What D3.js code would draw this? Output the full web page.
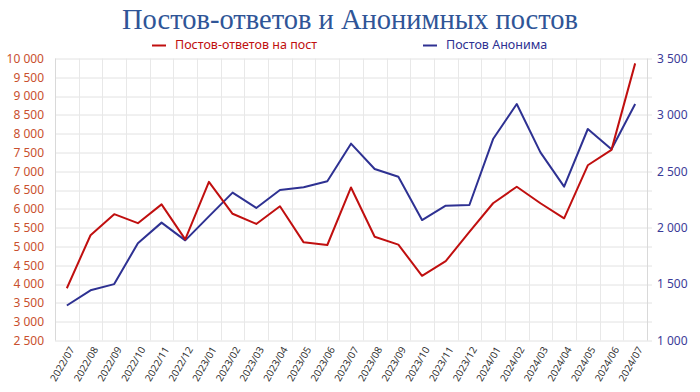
<!DOCTYPE html>
<html>
<head>
<meta charset="utf-8">
<script src="https://cdn.jsdelivr.net/npm/d3@7"></script>
<style>
  body { margin: 0; background: #fff; }
  svg { display: block; }
</style>
</head>
<body>
<div id="chart"></div>
<script>
const months = [
    "2022/07", "2022/08", "2022/09", "2022/10", "2022/11", "2022/12",
    "2023/01", "2023/02", "2023/03", "2023/04", "2023/05", "2023/06",
    "2023/07", "2023/08", "2023/09", "2023/10", "2023/11", "2023/12",
    "2024/01", "2024/02", "2024/03", "2024/04", "2024/05", "2024/06", "2024/07"
];

// left axis series
const replies = [
    3890, 5300, 5860, 5620, 6120, 5190,
    6720, 5870, 5600, 6070, 5110, 5040,
    6570, 5260, 5050, 4220, 4610, 5390,
    6150, 6590, 6150, 5750, 7160, 7570, 9870
];

// right axis series
const anon = [
    1310, 1445, 1500, 1862, 2045, 1888,
    2100, 2311, 2175, 2334, 2358, 2411,
    2745, 2520, 2452, 2068, 2195, 2201,
    2786, 3097, 2668, 2364, 2875, 2695, 3097
];

const leftTicks = d3.range(2500, 10001, 500);
const rightTicks = [1000, 1500, 2000, 2500, 3000, 3500];

const width = 700, height = 392;
const margin = { top: 58.5, right: 53, bottom: 51.5, left: 55 };
const innerWidth = width - margin.left - margin.right;
const innerHeight = height - margin.top - margin.bottom;

const redColor = "#c00f0f";
const blueColor = "#2e3192";
const fmt = d => d3.format(",")(d).replace(/,/g, " ");

const svg = d3.select("#chart").append("svg")
              .attr("width", width)
              .attr("height", height);

const g = svg.append("g")
             .attr("transform", `translate(${margin.left},${margin.top})`);

const x = d3.scaleBand()
            .domain(months)
            .range([0, innerWidth]);

const yLeft = d3.scaleLinear()
                .domain([2500, 10000])
                .range([innerHeight, 0]);

const yRight = d3.scaleLinear()
                 .domain([1000, 3500])
                 .range([innerHeight, 0]);

// grid
g.append("g")
 .selectAll("line")
 .data(leftTicks)
 .enter().append("line")
 .attr("x1", 0)
 .attr("x2", innerWidth + 5)
 .attr("y1", d => Math.round(yLeft(d)) + 0.5)
 .attr("y2", d => Math.round(yLeft(d)) + 0.5)
 .attr("stroke", "#e2e2e2")
 .attr("stroke-width", 1);

g.append("g")
 .selectAll("line")
 .data(months.slice(1))
 .enter().append("line")
 .attr("x1", d => Math.round(x(d)) + 0.5)
 .attr("x2", d => Math.round(x(d)) + 0.5)
 .attr("y1", 0)
 .attr("y2", innerHeight)
 .attr("stroke", "#e8e8e8")
 .attr("stroke-width", 1);

// axis lines
[0, innerWidth].forEach(xp => {
    g.append("line")
     .attr("x1", Math.round(xp) + 0.5)
     .attr("x2", Math.round(xp) + 0.5)
     .attr("y1", 0)
     .attr("y2", innerHeight)
     .attr("stroke", "#d9d9d9");
});

// left labels
g.append("g")
 .selectAll("text")
 .data(leftTicks)
 .enter().append("text")
 .attr("x", -11)
 .attr("y", d => yLeft(d))
 .attr("dy", "0.35em")
 .attr("text-anchor", "end")
 .attr("fill", "#c9502e")
 .style("font-family", "'Noto Sans', sans-serif")
 .style("font-size", "12px")
 .text(fmt);

// right labels
g.append("g")
 .selectAll("text")
 .data(rightTicks)
 .enter().append("text")
 .attr("x", innerWidth + 10)
 .attr("y", d => yRight(d))
 .attr("dy", "0.35em")
 .attr("fill", "#3b3b98")
 .style("font-family", "'Noto Sans', sans-serif")
 .style("font-size", "12px")
 .text(fmt);

// x labels
g.append("g")
 .selectAll("text")
 .data(months)
 .enter().append("text")
 .attr("transform", d => `translate(${x(d) + x.bandwidth() / 2 + 5},${innerHeight + 7}) rotate(-60)`)
 .attr("text-anchor", "end")
 .attr("dy", "0.35em")
 .attr("fill", "#333")
 .style("font-family", "'Noto Sans', sans-serif")
 .style("font-size", "10px")
 .text(d => d);

// lines
const cx = d => x(d) + x.bandwidth() / 2;

g.append("path")
 .datum(anon)
 .attr("fill", "none")
 .attr("stroke", blueColor)
 .attr("stroke-width", 2)
 .attr("stroke-linejoin", "round")
 .attr("d", d3.line().x((d, i) => cx(months[i])).y(d => yRight(d)));

g.append("path")
 .datum(replies)
 .attr("fill", "none")
 .attr("stroke", redColor)
 .attr("stroke-width", 2)
 .attr("stroke-linejoin", "round")
 .attr("d", d3.line().x((d, i) => cx(months[i])).y(d => yLeft(d)));

// title
svg.append("text")
   .attr("x", width / 2)
   .attr("y", 29)
   .attr("text-anchor", "middle")
   .attr("fill", "#2f5597")
   .style("font-family", "'Liberation Serif', serif")
   .style("font-size", "28.5px")
   .text("Постов-ответов и Анонимных постов");

// legend
const legendItems = [
    { label: "Постов-ответов на пост", color: redColor, x: 152 },
    { label: "Постов Анонима", color: blueColor, x: 423 }
];

legendItems.forEach(it => {
    svg.append("line")
       .attr("x1", it.x)
       .attr("x2", it.x + 14)
       .attr("y1", 45.5)
       .attr("y2", 45.5)
       .attr("stroke", it.color)
       .attr("stroke-width", 2);

    svg.append("text")
       .attr("x", it.x + 23)
       .attr("y", 45)
       .attr("dy", "0.35em")
       .attr("fill", it.color)
       .style("font-family", "'Noto Sans', sans-serif")
       .style("font-size", "12.5px")
       .text(it.label);
});
</script>
</body>
</html>
